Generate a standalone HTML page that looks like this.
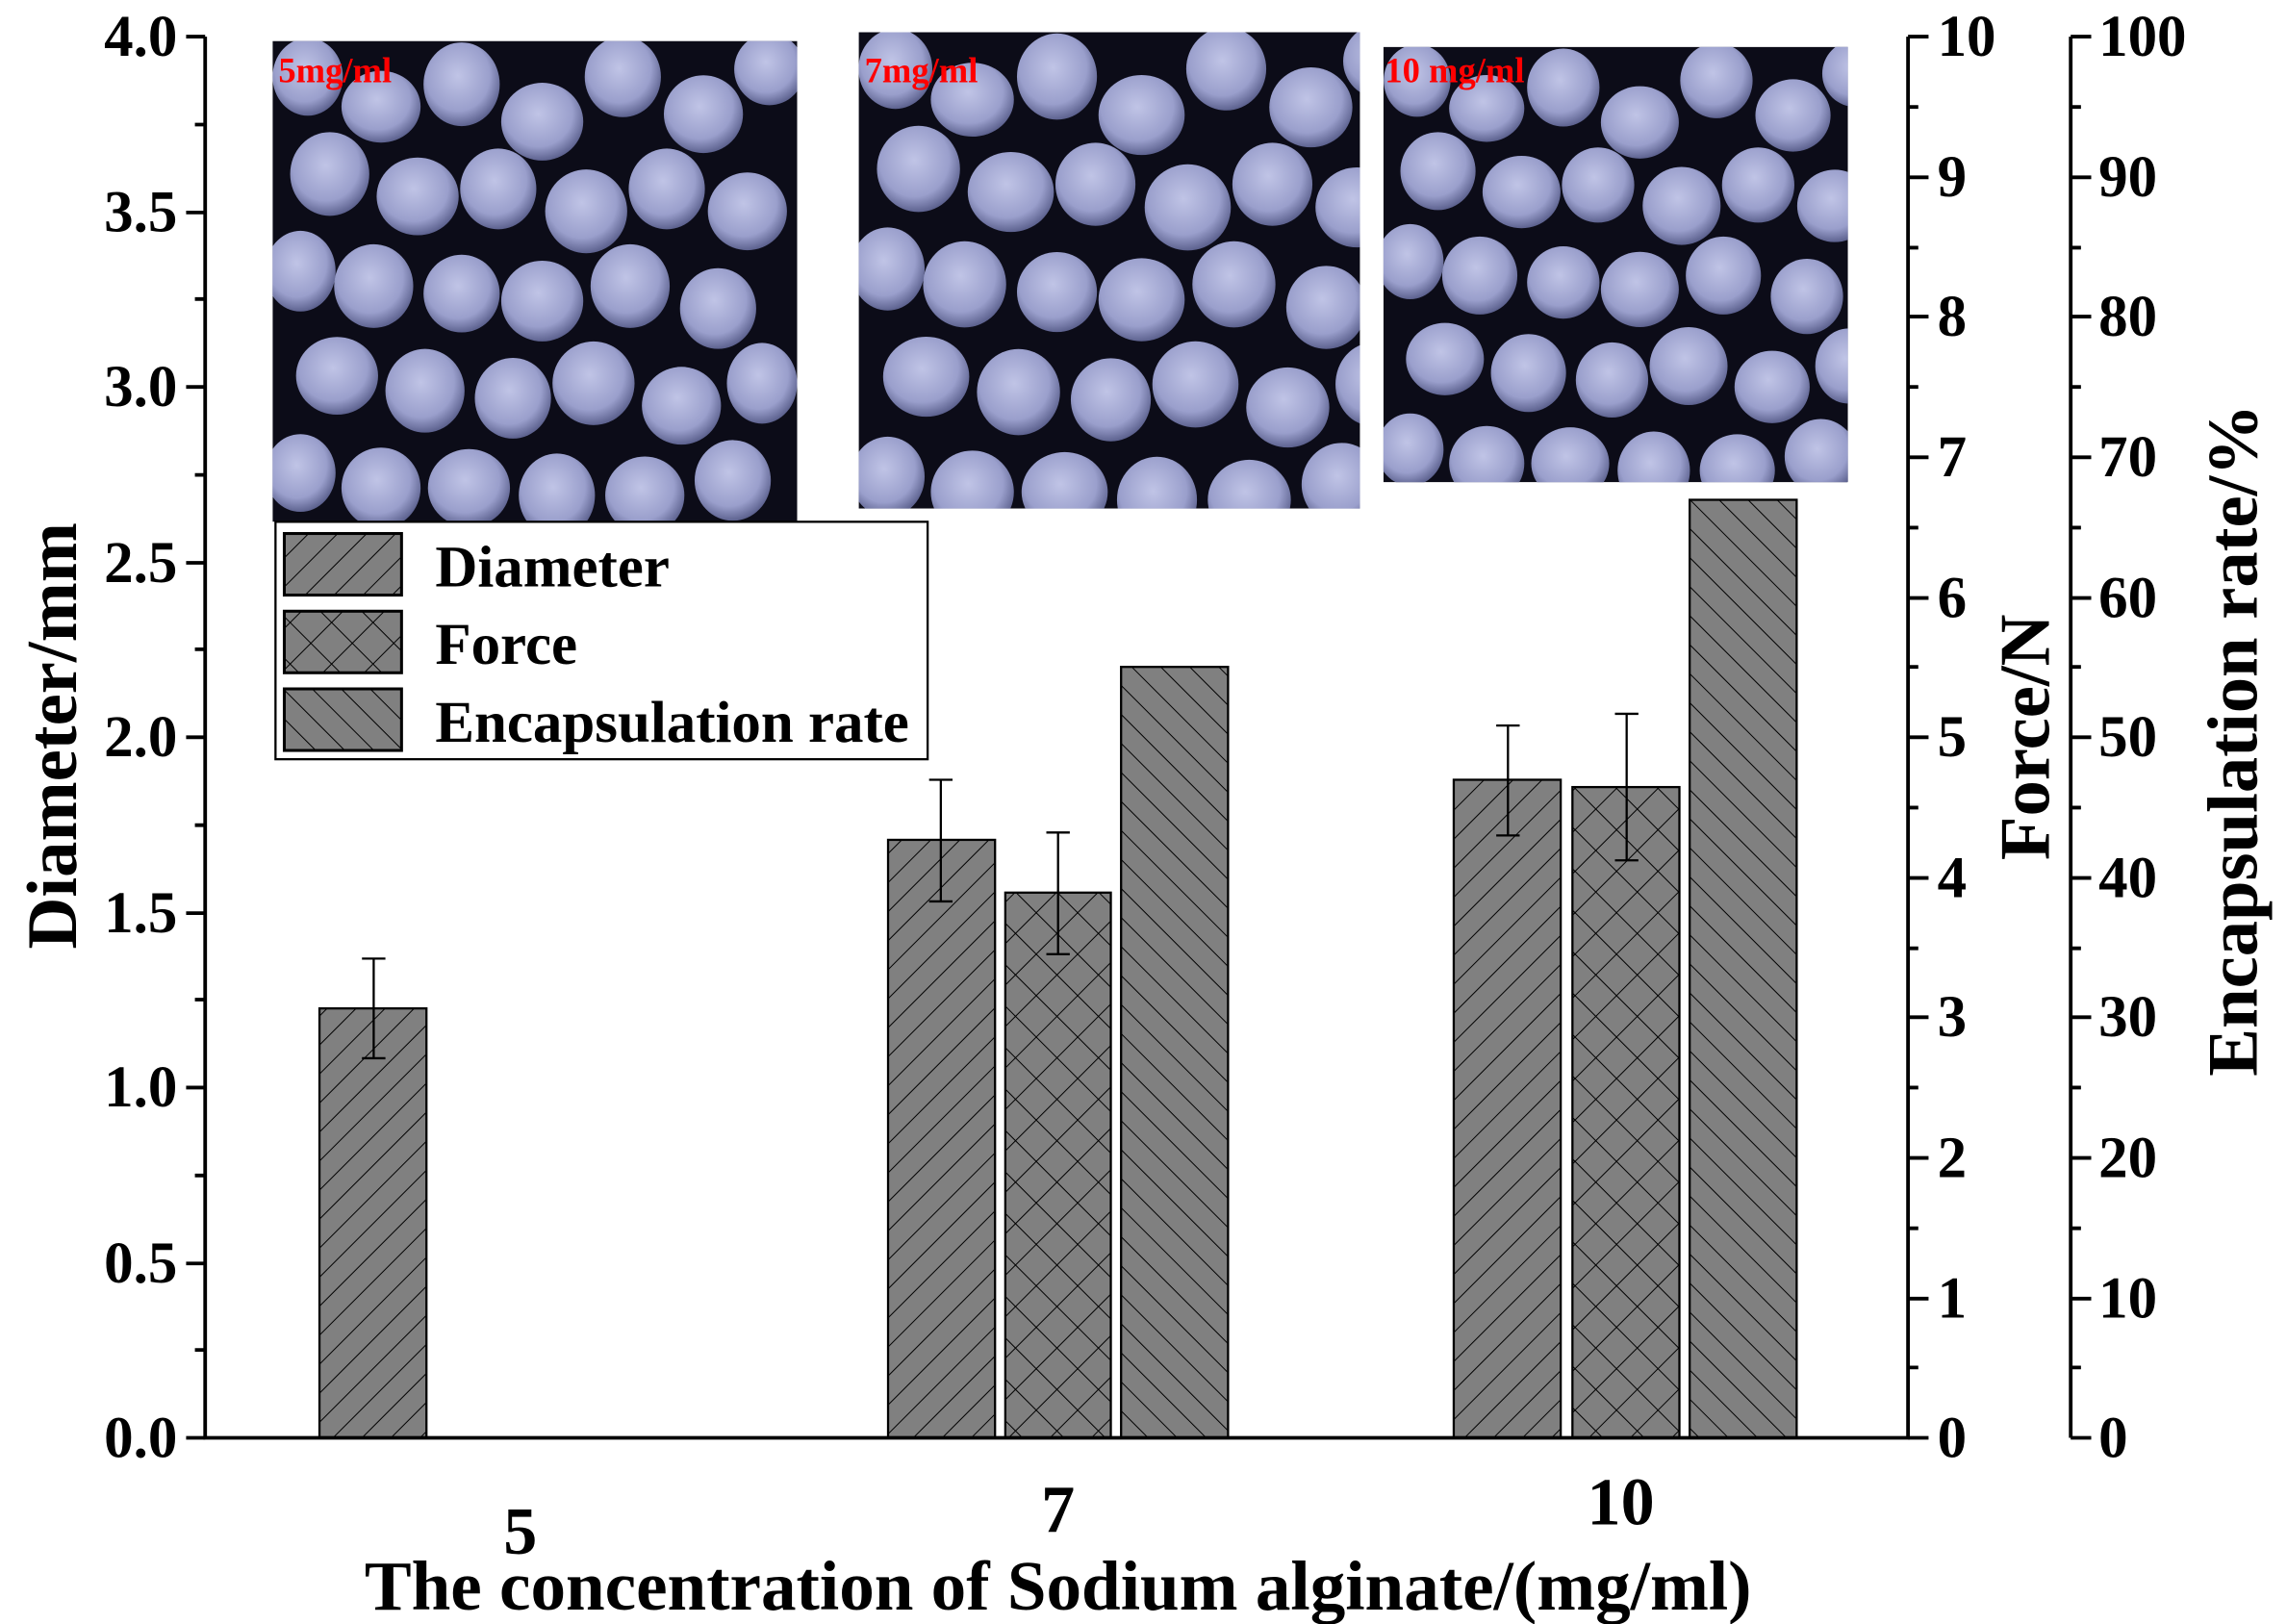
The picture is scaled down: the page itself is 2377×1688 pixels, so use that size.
<!DOCTYPE html>
<html><head><style>html,body{margin:0;padding:0;background:#fff}svg{display:block}</style></head>
<body>
<svg width="2377" height="1688" viewBox="0 0 1560.6 1108" preserveAspectRatio="none" xmlns="http://www.w3.org/2000/svg" font-family="Liberation Serif, serif" font-weight="bold">
<defs>
<pattern id="fw" width="14" height="14" patternUnits="userSpaceOnUse" patternTransform="rotate(45)"><rect width="14" height="14" fill="#808080"/><line x1="0" y1="0" x2="0" y2="14" stroke="#000" stroke-width="1.3"/></pattern>
<pattern id="bk" width="14" height="14" patternUnits="userSpaceOnUse" patternTransform="rotate(-45)"><rect width="14" height="14" fill="#808080"/><line x1="0" y1="0" x2="0" y2="14" stroke="#000" stroke-width="1.3"/></pattern>
<pattern id="xx" width="20" height="20" patternUnits="userSpaceOnUse" patternTransform="rotate(45)"><rect width="20" height="20" fill="#808080"/><line x1="0" y1="0" x2="0" y2="20" stroke="#000" stroke-width="1.3"/><line x1="0" y1="0" x2="20" y2="0" stroke="#000" stroke-width="1.3"/></pattern>
<radialGradient id="bd" cx="0.45" cy="0.4" r="0.6"><stop offset="0" stop-color="#c0c4e6"/><stop offset="0.7" stop-color="#9a9fcc"/><stop offset="1" stop-color="#5e6390"/></radialGradient>
<g id="beads">
<ellipse cx="20" cy="20" rx="24" ry="26"/><ellipse cx="70" cy="40" rx="27" ry="24"/><ellipse cx="125" cy="25" rx="26" ry="28"/><ellipse cx="180" cy="50" rx="28" ry="26"/><ellipse cx="235" cy="20" rx="26" ry="27"/><ellipse cx="290" cy="45" rx="27" ry="26"/><ellipse cx="335" cy="15" rx="24" ry="24"/>
<ellipse cx="35" cy="85" rx="27" ry="28"/><ellipse cx="95" cy="100" rx="28" ry="26"/><ellipse cx="150" cy="95" rx="26" ry="27"/><ellipse cx="210" cy="110" rx="28" ry="28"/><ellipse cx="265" cy="95" rx="26" ry="27"/><ellipse cx="320" cy="110" rx="27" ry="26"/>
<ellipse cx="15" cy="150" rx="24" ry="27"/><ellipse cx="65" cy="160" rx="27" ry="28"/><ellipse cx="125" cy="165" rx="26" ry="26"/><ellipse cx="180" cy="170" rx="28" ry="27"/><ellipse cx="240" cy="160" rx="27" ry="28"/><ellipse cx="300" cy="175" rx="26" ry="27"/>
<ellipse cx="40" cy="220" rx="28" ry="26"/><ellipse cx="100" cy="230" rx="27" ry="28"/><ellipse cx="160" cy="235" rx="26" ry="27"/><ellipse cx="215" cy="225" rx="28" ry="28"/><ellipse cx="275" cy="240" rx="27" ry="26"/><ellipse cx="330" cy="225" rx="24" ry="27"/>
<ellipse cx="15" cy="285" rx="24" ry="26"/><ellipse cx="70" cy="295" rx="27" ry="27"/><ellipse cx="130" cy="295" rx="28" ry="26"/><ellipse cx="190" cy="300" rx="26" ry="28"/><ellipse cx="250" cy="300" rx="27" ry="26"/><ellipse cx="310" cy="290" rx="26" ry="27"/>
</g>
<clipPath id="c1"><rect x="186" y="28" width="358" height="328"/></clipPath>
<clipPath id="c2"><rect x="586" y="22" width="342" height="325"/></clipPath>
<clipPath id="c3"><rect x="944" y="32" width="317" height="297"/></clipPath>
</defs>
<rect width="1560.6" height="1108" fill="#fff"/>
<g clip-path="url(#c1)"><rect x="186" y="28" width="358" height="328" fill="#0c0c18"/><use href="#beads" transform="translate(190,32) scale(1,1.02)" fill="url(#bd)"/></g>
<g clip-path="url(#c2)"><rect x="586" y="22" width="342" height="325" fill="#0c0c18"/><use href="#beads" transform="translate(590,26) scale(1.05,1.05)" fill="url(#bd)"/></g>
<g clip-path="url(#c3)"><rect x="944" y="32" width="317" height="297" fill="#0c0c18"/><use href="#beads" transform="translate(948,36) scale(0.95,0.95)" fill="url(#bd)"/></g>
<g font-size="24" fill="#f00"><text x="190" y="56">5mg/ml</text><text x="590" y="56">7mg/ml</text><text x="945" y="56">10 mg/ml</text></g>
<g stroke="#000" stroke-width="1.5">
<rect x="218" y="688" width="73" height="293" fill="url(#fw)"/>
<rect x="606" y="573" width="73" height="408" fill="url(#fw)"/>
<rect x="686" y="609" width="72" height="372" fill="url(#xx)"/>
<rect x="765" y="455" width="73" height="526" fill="url(#bk)"/>
<rect x="992" y="532" width="73" height="449" fill="url(#fw)"/>
<rect x="1073" y="537" width="73" height="444" fill="url(#xx)"/>
<rect x="1153" y="341" width="73" height="640" fill="url(#bk)"/>
</g>
<g stroke="#000" stroke-width="1.5" fill="none">
<path d="M255 654V722M247 654H263M247 722H263"/>
<path d="M642 532V615M634 532H650M634 615H650"/>
<path d="M722 568V651M714 568H730M714 651H730"/>
<path d="M1029 495V570M1021 495H1037M1021 570H1037"/>
<path d="M1110 487V587M1102 487H1118M1102 587H1118"/>
</g>
<rect x="188" y="356" width="445" height="162" fill="#fff" stroke="#000" stroke-width="1.5"/>
<rect x="194" y="364" width="80" height="42" fill="url(#fw)" stroke="#000" stroke-width="2"/>
<rect x="194" y="417" width="80" height="42" fill="url(#xx)" stroke="#000" stroke-width="2"/>
<rect x="194" y="470" width="80" height="42" fill="url(#bk)" stroke="#000" stroke-width="2"/>
<g font-size="40"><text x="297" y="400">Diameter</text><text x="297" y="453">Force</text><text x="297" y="506">Encapsulation rate</text></g>
<g stroke="#000" stroke-width="2.5" fill="none">
<path d="M140 25V981H1302V25"/>
<path d="M1413 25V981"/>
<path d="M140 25H127M140 145H127M140 264H127M140 384H127M140 503H127M140 623H127M140 742H127M140 862H127M140 981H127"/>
<path d="M140 85H133M140 204H133M140 324H133M140 443H133M140 563H133M140 682H133M140 802H133M140 921H133"/>
<path d="M1302 25H1316M1302 121H1316M1302 216H1316M1302 312H1316M1302 408H1316M1302 503H1316M1302 599H1316M1302 694H1316M1302 790H1316M1302 886H1316M1302 981H1316"/>
<path d="M1302 73H1309M1302 169H1309M1302 264H1309M1302 360H1309M1302 455H1309M1302 551H1309M1302 647H1309M1302 742H1309M1302 838H1309M1302 933H1309"/>
<path d="M1413 25H1427M1413 121H1427M1413 216H1427M1413 312H1427M1413 408H1427M1413 503H1427M1413 599H1427M1413 694H1427M1413 790H1427M1413 886H1427M1413 981H1427"/>
<path d="M1413 73H1420M1413 169H1420M1413 264H1420M1413 360H1420M1413 455H1420M1413 551H1420M1413 647H1420M1413 742H1420M1413 838H1420M1413 933H1420"/>
</g>
<g font-size="40" text-anchor="end">
<text x="121" y="38">4.0</text><text x="121" y="158">3.5</text><text x="121" y="277">3.0</text><text x="121" y="397">2.5</text><text x="121" y="516">2.0</text><text x="121" y="636">1.5</text><text x="121" y="755">1.0</text><text x="121" y="875">0.5</text><text x="121" y="994">0.0</text>
</g>
<g font-size="40">
<text x="1322" y="38">10</text><text x="1322" y="134">9</text><text x="1322" y="229">8</text><text x="1322" y="325">7</text><text x="1322" y="421">6</text><text x="1322" y="516">5</text><text x="1322" y="612">4</text><text x="1322" y="707">3</text><text x="1322" y="803">2</text><text x="1322" y="899">1</text><text x="1322" y="994">0</text>
<text x="1432" y="38">100</text><text x="1432" y="134">90</text><text x="1432" y="229">80</text><text x="1432" y="325">70</text><text x="1432" y="421">60</text><text x="1432" y="516">50</text><text x="1432" y="612">40</text><text x="1432" y="707">30</text><text x="1432" y="803">20</text><text x="1432" y="899">10</text><text x="1432" y="994">0</text>
</g>
<g font-size="46" text-anchor="middle">
<text x="355" y="1060">5</text><text x="722" y="1045">7</text><text x="1106" y="1040">10</text>
<text x="722" y="1098" font-size="48">The concentration of Sodium alginate/(mg/ml)</text>
</g>
<g font-size="49" text-anchor="middle">
<text transform="translate(52,502) rotate(-90)">Diameter/mm</text>
<text transform="translate(1398,503) rotate(-90)">Force/N</text>
<text transform="translate(1540,505) rotate(-90)">Encapsulation rate/%</text>
</g>
</svg>
</body></html>
